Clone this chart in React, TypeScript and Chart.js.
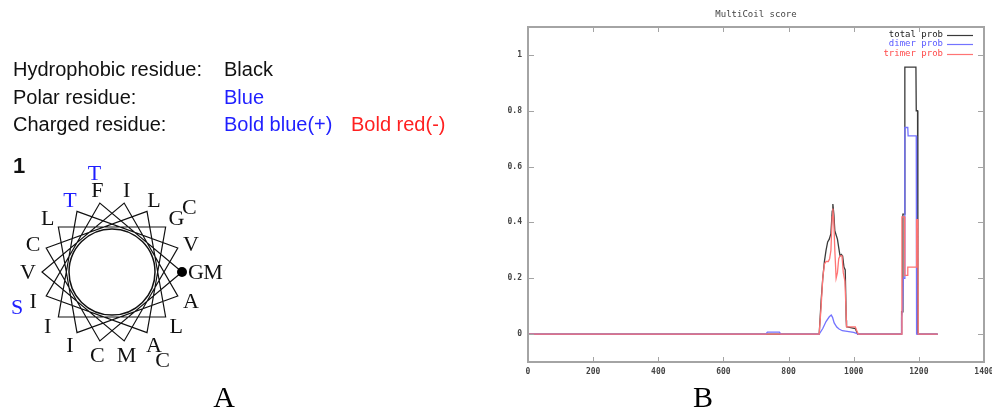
import React, { useEffect, useRef } from "react";
import { Chart, registerables } from "chart.js";

Chart.register(...registerables);

// ---------- Chart data (panel B) ----------
const TITLE = "MultiCoil score";
const SERIES_NAMES = ["total prob", "dimer prob", "trimer prob"];
const SERIES_COLORS = ["#3a3a3a", "#7373ff", "#ff7474"];
const LEGEND_TEXT_COLORS = ["#222222", "#5a5aff", "#ff4a4a"];
const X_TICKS = [0, 200, 400, 600, 800, 1000, 1200, 1400];
const Y_TICKS = [0, 0.2, 0.4, 0.6, 0.8, 1];
const Y_TICK_LABELS = ["0", "0.2", "0.4", "0.6", "0.8", "1"];
const X_MIN = 0;
const X_MAX = 1400;
const Y_MIN = -0.1;
const Y_MAX = 1.1;

const TOTAL_X = [0, 894, 900, 905, 910, 915, 920, 925, 930, 934, 936, 939, 942, 946, 950, 954, 958, 962, 966, 970, 974, 977, 978, 1005, 1012, 1146, 1147, 1150, 1151, 1156, 1157, 1191, 1192, 1196, 1197, 1258];
const TOTAL_Y = [0, 0, 0.12, 0.2, 0.26, 0.3, 0.33, 0.34, 0.36, 0.44, 0.466, 0.43, 0.37, 0.355, 0.34, 0.31, 0.28, 0.285, 0.28, 0.24, 0.23, 0.05, 0.026, 0.02, 0, 0, 0.08, 0.08, 0.43, 0.43, 0.956, 0.956, 0.8, 0.8, 0, 0];

const DIMER_X = [0, 730, 735, 772, 776, 894, 905, 915, 925, 931, 935, 940, 948, 955, 965, 980, 1000, 1014, 1146, 1147, 1150, 1152, 1156, 1157, 1166, 1167, 1192, 1193, 1258];
const DIMER_Y = [0, 0, 0.007, 0.007, 0, 0, 0.02, 0.045, 0.062, 0.068, 0.06, 0.04, 0.025, 0.018, 0.012, 0.01, 0.006, 0, 0, 0.06, 0.09, 0.2, 0.2, 0.74, 0.74, 0.71, 0.71, 0, 0];

const TRIMER_X = [0, 894, 900, 905, 910, 915, 922, 926, 930, 934, 936, 939, 942, 946, 950, 954, 958, 964, 968, 973, 976, 978, 1005, 1010, 1014, 1147, 1148, 1156, 1157, 1165, 1166, 1192, 1193, 1197, 1198, 1258];
const TRIMER_Y = [0, 0, 0.1, 0.2, 0.25, 0.26, 0.26, 0.27, 0.3, 0.42, 0.45, 0.4, 0.3, 0.2, 0.22, 0.27, 0.28, 0.28, 0.22, 0.19, 0.1, 0.026, 0.026, 0.01, 0, 0, 0.42, 0.42, 0.21, 0.21, 0.24, 0.24, 0.41, 0.41, 0, 0];

// ---------- Panel A data ----------
const KEY_LABELS = ["Hydrophobic residue:", "Polar residue:", "Charged residue:"];
const KEY_VALUES = [
  [{ text: "Black", color: "#111111" }],
  [{ text: "Blue", color: "#1f1fff" }],
  [
    { text: "Bold blue(+)", color: "#1f1fff" },
    { text: "Bold red(-)", color: "#ff2020" },
  ],
];
const WHEEL_NUMBER = "1";
const WHEEL_SEQUENCE = ["G", "F", "I", "A", "G", "L", "I", "A", "I", "V", "M", "V", "T", "I", "L", "L", "C", "C", "M", "T", "S", "C", "C"];
const POLAR_RESIDUES = ["S", "T", "N", "Q", "Y", "H"];
const POSITIVE_RESIDUES = ["K", "R"];
const NEGATIVE_RESIDUES = ["D", "E"];
const PANEL_LABELS = ["A", "B"];

const FRAME_COLOR = "#a4a4a4";
const TICK_FONT = "DejaVu Sans Mono";

function residueColor(r: string) {
  if (POSITIVE_RESIDUES.includes(r)) return "#1f1fff";
  if (NEGATIVE_RESIDUES.includes(r)) return "#ff2020";
  if (POLAR_RESIDUES.includes(r)) return "#1f1fff";
  return "#111111";
}

function MultiCoilChart() {
  const ref = useRef<HTMLCanvasElement>(null);
  useEffect(() => {
    if (!ref.current) return;
    const pts = (xs: number[], ys: number[]) => xs.map((x, i) => ({ x, y: ys[i] }));
    const decor = {
      id: "gnuplotDecor",
      afterDatasetsDraw(chart: any) {
        const { ctx, chartArea: a, scales } = chart;
        ctx.save();
        // frame
        ctx.strokeStyle = FRAME_COLOR;
        ctx.lineWidth = 2;
        ctx.strokeRect(a.left, a.top, a.right - a.left, a.bottom - a.top);
        // inward ticks, mirrored
        ctx.lineWidth = 1;
        ctx.beginPath();
        for (const v of X_TICKS) {
          const px = Math.round(scales.x.getPixelForValue(v)) + 0.5;
          ctx.moveTo(px, a.bottom);
          ctx.lineTo(px, a.bottom - 5);
          ctx.moveTo(px, a.top);
          ctx.lineTo(px, a.top + 5);
        }
        for (const v of Y_TICKS) {
          const py = Math.round(scales.y.getPixelForValue(v)) + 0.5;
          ctx.moveTo(a.left, py);
          ctx.lineTo(a.left + 6, py);
          ctx.moveTo(a.right, py);
          ctx.lineTo(a.right - 6, py);
        }
        ctx.stroke();
        // title
        ctx.fillStyle = "#444";
        ctx.font = `9px "${TICK_FONT}"`;
        ctx.textAlign = "center";
        ctx.textBaseline = "middle";
        ctx.fillText(TITLE, (a.left + a.right) / 2, 15);
        // legend inside, gnuplot style
        const textRight = a.right - 41;
        chart.data.datasets.forEach((ds: any, i: number) => {
          const y = a.top + 7.5 + i * 9.5;
          ctx.textAlign = "right";
          ctx.fillStyle = LEGEND_TEXT_COLORS[i];
          ctx.fillText(ds.label, textRight, y);
          ctx.strokeStyle = SERIES_COLORS[i];
          ctx.lineWidth = 1.2;
          ctx.beginPath();
          ctx.moveTo(textRight + 4, Math.round(y) + 0.5);
          ctx.lineTo(textRight + 30, Math.round(y) + 0.5);
          ctx.stroke();
        });
        ctx.restore();
      },
    };
    const chart = new Chart(ref.current, {
      type: "line",
      data: {
        datasets: [
          { label: SERIES_NAMES[0], data: pts(TOTAL_X, TOTAL_Y), borderColor: SERIES_COLORS[0], order: 3 },
          { label: SERIES_NAMES[1], data: pts(DIMER_X, DIMER_Y), borderColor: SERIES_COLORS[1], order: 2 },
          { label: SERIES_NAMES[2], data: pts(TRIMER_X, TRIMER_Y), borderColor: SERIES_COLORS[2], order: 1 },
        ],
      },
      options: {
        animation: false,
        responsive: false,
        devicePixelRatio: 1,
        datasets: { line: { borderWidth: 1.3, pointRadius: 0, tension: 0, fill: false } },
        layout: { padding: { left: 8, right: 26, top: 27, bottom: 28 } },
        plugins: { legend: { display: false }, tooltip: { enabled: false }, title: { display: false } },
        scales: {
          x: {
            type: "linear",
            min: X_MIN,
            max: X_MAX,
            grid: { display: false, drawTicks: false },
            border: { display: false },
            afterBuildTicks: (s: any) => {
              s.ticks = X_TICKS.map((v) => ({ value: v }));
            },
            afterFit: (s: any) => {
              s.height = 20;
            },
            ticks: {
              padding: 5,
              maxRotation: 0,
              autoSkip: false,
              color: "#444",
              font: { family: TICK_FONT, size: 8, weight: "bold" },
              callback: (v: any) => String(v),
            },
          },
          y: {
            type: "linear",
            min: Y_MIN,
            max: Y_MAX,
            grid: { display: false, drawTicks: false },
            border: { display: false },
            afterBuildTicks: (s: any) => {
              s.ticks = Y_TICKS.map((v) => ({ value: v }));
            },
            afterFit: (s: any) => {
              s.width = 40;
            },
            ticks: {
              padding: 6,
              autoSkip: false,
              color: "#444",
              font: { family: TICK_FONT, size: 8, weight: "bold" },
              callback: (v: any) => {
                const idx = Y_TICKS.findIndex((t) => Math.abs(t - v) < 1e-9);
                return idx >= 0 ? Y_TICK_LABELS[idx] : "";
              },
            },
          },
        },
      },
      plugins: [decor],
    } as any);
    return () => chart.destroy();
  }, []);
  return (
    <canvas
      ref={ref}
      width={530}
      height={410}
      style={{ position: "absolute", left: 480, top: 0, width: 530, height: 410 }}
    />
  );
}

function HelicalWheel() {
  const cx = 112;
  const cy = 272;
  const vertexR = 70;
  const innerR = 43;
  const labelR = [84, 101];
  const n = 18;
  const ang = (i: number) => (-(i * 100) * Math.PI) / 180;
  const verts = [] as string[];
  for (let i = 0; i <= n; i++) {
    verts.push(`${(cx + vertexR * Math.cos(ang(i))).toFixed(2)},${(cy + vertexR * Math.sin(ang(i))).toFixed(2)}`);
  }
  return (
    <g>
      <polyline points={verts.join(" ")} fill="none" stroke="#111" strokeWidth={1.2} />
      <circle cx={cx} cy={cy} r={innerR} fill="none" stroke="#111" strokeWidth={1.5} />
      <circle cx={cx + vertexR * Math.cos(ang(0))} cy={cy + vertexR * Math.sin(ang(0))} r={5} fill="#000" />
      {WHEEL_SEQUENCE.map((res, i) => {
        const ring = Math.floor(i / n);
        const r = labelR[Math.min(ring, 1)];
        const x = cx + r * Math.cos(ang(i));
        const y = cy + r * Math.sin(ang(i));
        return (
          <text
            key={i}
            x={x}
            y={y + 7.3}
            textAnchor="middle"
            fontFamily="'Liberation Serif', serif"
            fontSize={22}
            fill={residueColor(res)}
          >
            {res}
          </text>
        );
      })}
    </g>
  );
}

export default function App() {
  return (
    <div
      style={{
        position: "absolute",
        left: 0,
        top: 0,
        width: 992,
        height: 410,
        overflow: "hidden",
        background: "#fff",
      }}
    >
      <MultiCoilChart />
      <svg
        width={992}
        height={410}
        style={{ position: "absolute", left: 0, top: 0, pointerEvents: "none" }}
      >
        {KEY_LABELS.map((lab, i) => (
          <g key={i} fontFamily="'Liberation Sans', Arial, sans-serif" fontSize={20}>
            <text x={13} y={76 + i * 27.5} fill="#111">
              {lab}
            </text>
            {KEY_VALUES[i].map((v, j) => (
              <text key={j} x={j === 0 ? 224 : 351} y={76 + i * 27.5} fill={v.color}>
                {v.text}
              </text>
            ))}
          </g>
        ))}
        <text x={13} y={173} fontFamily="'Liberation Sans', Arial, sans-serif" fontWeight="bold" fontSize={22} fill="#111">
          {WHEEL_NUMBER}
        </text>
        <HelicalWheel />
        <text x={224} y={407} textAnchor="middle" fontFamily="'Liberation Serif', serif" fontSize={30} fill="#000">
          {PANEL_LABELS[0]}
        </text>
        <text x={703} y={407} textAnchor="middle" fontFamily="'Liberation Serif', serif" fontSize={30} fill="#000">
          {PANEL_LABELS[1]}
        </text>
      </svg>
    </div>
  );
}
